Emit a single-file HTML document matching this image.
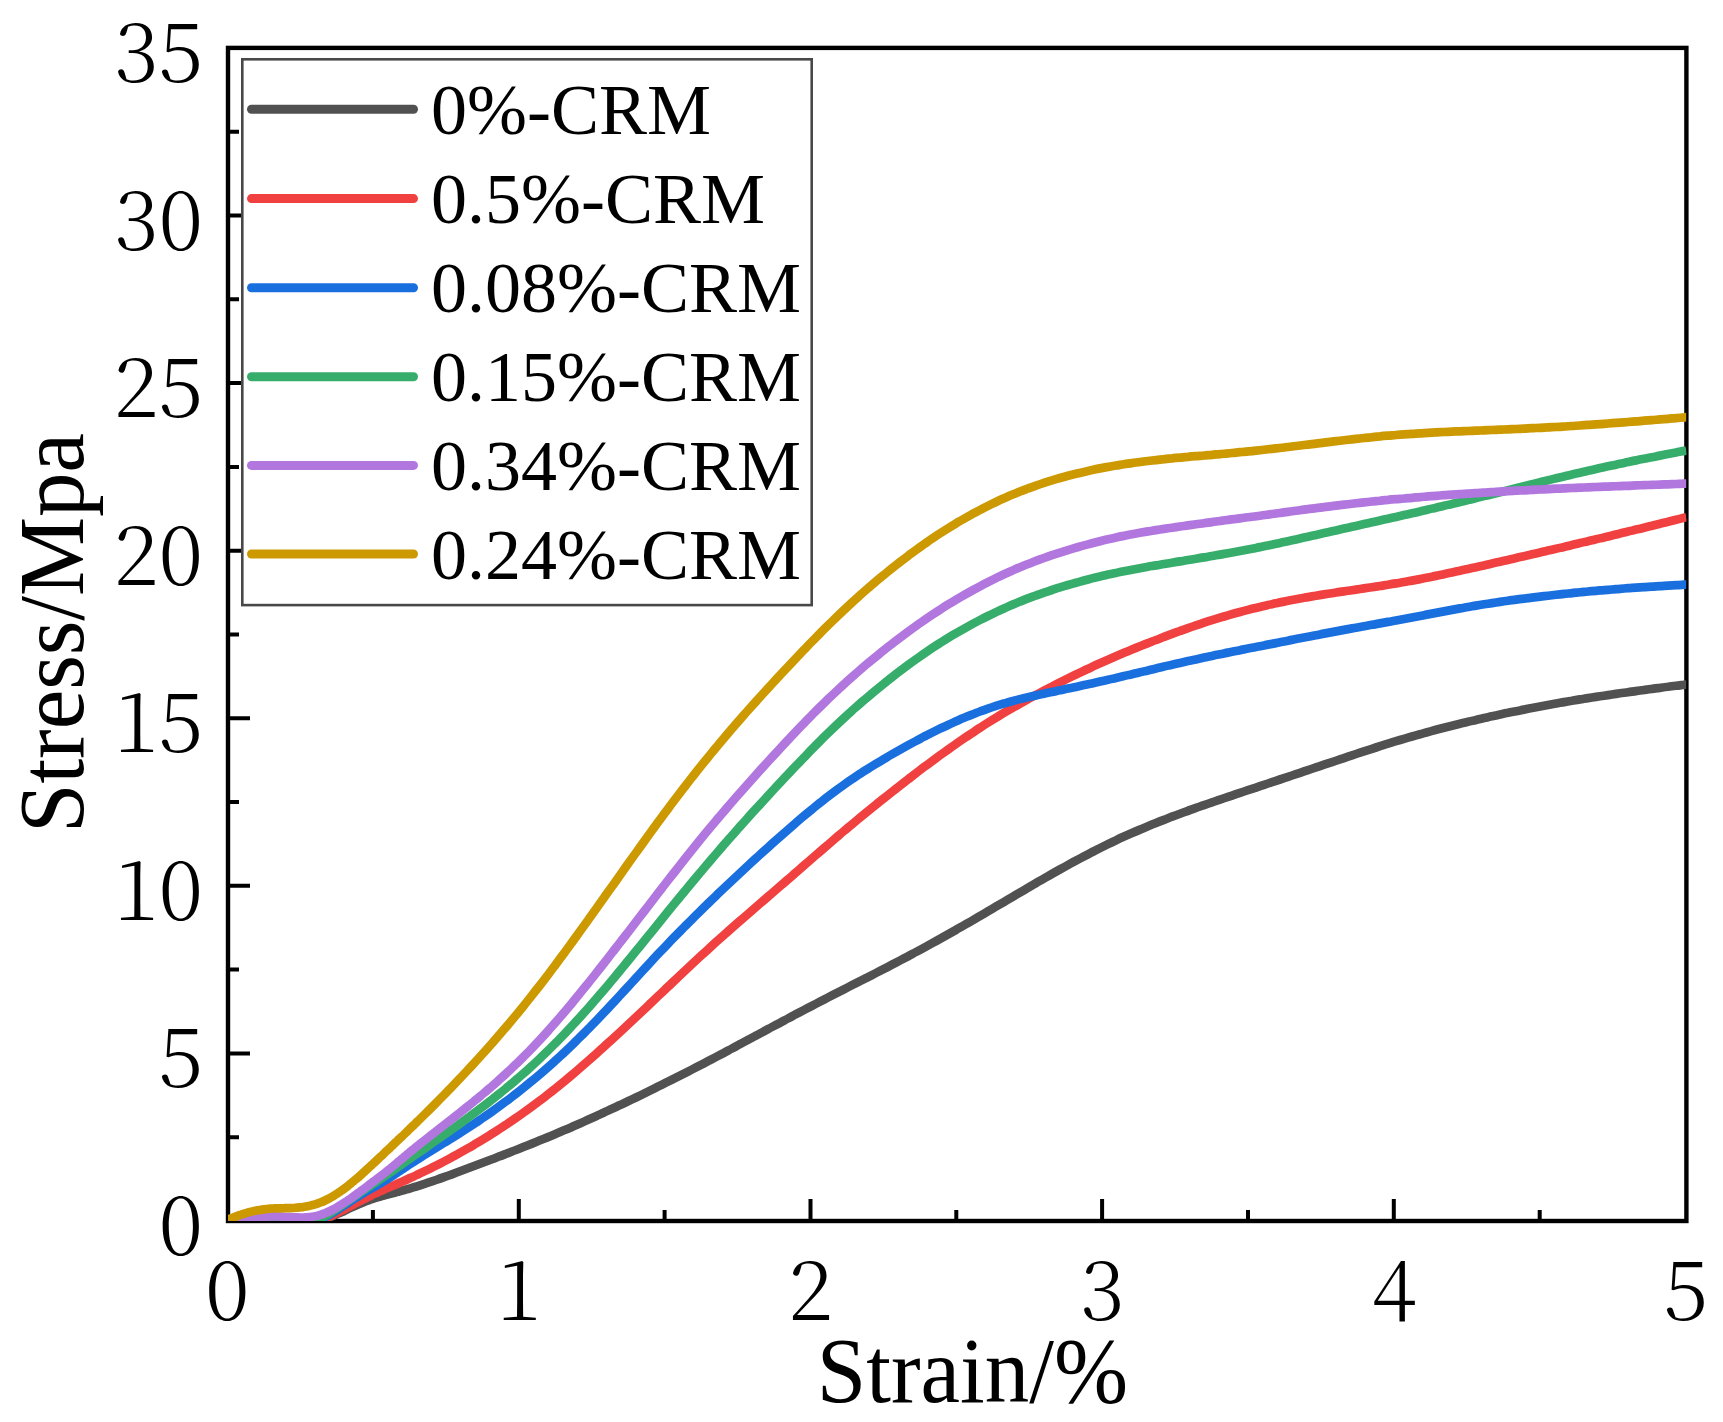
<!DOCTYPE html>
<html lang="en"><head><meta charset="utf-8"><title>Stress-Strain</title>
<style>html,body{margin:0;padding:0;background:#fff}svg{display:block}text{font-family:"Liberation Serif","Times New Roman",serif;fill:#000}.tk text{font-family:"Noto Serif CJK SC","Liberation Serif",serif;font-weight:300}</style></head><body>
<svg width="1723" height="1422" viewBox="0 0 1723 1422">
<rect width="1723" height="1422" fill="#fff"/>
<rect x="228.0" y="47.9" width="1458.4" height="1173.1" fill="none" stroke="#000" stroke-width="4.4"/>
<path d="M228.0 1137.2 h11 M228.0 1053.4 h22 M228.0 969.6 h11 M228.0 885.8 h22 M228.0 802.0 h11 M228.0 718.2 h22 M228.0 634.5 h11 M228.0 550.7 h22 M228.0 466.9 h11 M228.0 383.1 h22 M228.0 299.3 h11 M228.0 215.5 h22 M228.0 131.7 h11 M372.9 1221.0 v-11 M518.8 1221.0 v-22 M664.6 1221.0 v-11 M810.5 1221.0 v-22 M956.3 1221.0 v-11 M1102.1 1221.0 v-22 M1248.0 1221.0 v-11 M1393.8 1221.0 v-22 M1539.7 1221.0 v-11" stroke="#000" stroke-width="4.0" fill="none"/>
<defs><clipPath id="c"><rect x="228.0" y="47.9" width="1458.4" height="1173.1"/></clipPath></defs>
<g clip-path="url(#c)" fill="none" stroke-width="8.7" stroke-linejoin="round" stroke-linecap="butt">
<path d="M228.0 1221.0 C228.5 1221.0 230.0 1221.0 231.0 1221.0 C232.0 1221.0 233.0 1221.0 234.0 1221.0 C235.0 1221.0 236.0 1221.0 237.0 1221.0 C238.0 1221.0 239.0 1221.0 240.0 1221.0 C241.0 1221.0 242.0 1221.0 243.0 1221.0 C244.0 1221.0 245.0 1221.0 246.0 1221.0 C247.0 1221.0 248.0 1221.0 249.0 1221.0 C250.0 1221.0 251.0 1221.0 252.0 1221.0 C253.0 1221.0 254.0 1221.0 255.0 1221.0 C256.0 1221.0 257.0 1221.0 258.0 1221.0 C259.0 1221.0 260.0 1221.0 261.0 1221.0 C262.0 1221.0 263.0 1221.0 264.0 1221.0 C265.0 1221.0 266.0 1220.9 267.0 1220.9 C268.0 1220.9 269.0 1220.9 270.0 1220.9 C271.0 1220.9 272.0 1220.9 273.0 1220.9 C274.0 1220.9 275.0 1220.9 276.0 1220.9 C277.0 1220.9 278.0 1221.0 279.0 1221.0 C280.0 1221.0 281.0 1221.0 282.0 1221.0 C283.0 1221.0 284.0 1221.1 285.0 1221.1 C286.0 1221.1 287.0 1221.1 288.0 1221.1 C289.0 1221.1 290.0 1221.2 291.0 1221.3 C292.0 1221.3 293.0 1221.4 294.0 1221.4 C295.0 1221.4 296.0 1221.5 297.0 1221.5 C298.0 1221.5 299.0 1221.6 300.0 1221.6 C301.0 1221.6 302.0 1221.7 303.0 1221.7 C304.0 1221.7 305.0 1221.7 306.0 1221.7 C307.0 1221.7 308.0 1221.6 309.0 1221.6 C310.0 1221.5 311.0 1221.5 312.0 1221.4 C313.0 1221.3 314.0 1221.2 315.0 1221.1 C316.0 1221.0 317.0 1220.9 318.0 1220.7 C319.0 1220.5 320.0 1220.3 321.0 1220.1 C322.0 1219.9 323.0 1219.6 324.0 1219.3 C325.0 1219.0 326.0 1218.8 327.0 1218.4 C328.0 1218.1 329.0 1217.6 330.0 1217.2 C331.0 1216.8 332.0 1216.4 333.0 1216.0 C334.0 1215.6 335.0 1215.1 336.0 1214.6 C337.0 1214.1 338.0 1213.7 339.0 1213.2 C340.0 1212.8 341.0 1212.4 342.0 1211.9 C343.0 1211.5 344.0 1211.0 345.0 1210.5 C346.0 1210.0 347.0 1209.6 348.0 1209.1 C349.0 1208.6 350.0 1208.2 351.0 1207.7 C352.0 1207.2 353.0 1206.8 354.0 1206.3 C355.0 1205.8 356.0 1205.4 357.0 1205.0 C358.0 1204.6 359.0 1204.1 360.0 1203.7 C361.0 1203.3 362.0 1202.8 363.0 1202.4 C364.0 1202.0 365.0 1201.7 366.0 1201.3 C367.0 1200.9 368.0 1200.6 369.0 1200.2 C370.0 1199.8 371.0 1199.4 372.0 1199.1 C373.0 1198.8 374.0 1198.5 375.0 1198.2 C376.0 1197.9 377.0 1197.5 378.0 1197.2 C379.0 1196.9 380.0 1196.7 381.0 1196.4 C382.0 1196.1 383.0 1195.8 384.0 1195.5 C385.0 1195.2 386.0 1195.0 387.0 1194.7 C388.0 1194.4 389.0 1194.2 390.0 1193.9 C391.0 1193.6 392.0 1193.4 393.0 1193.1 C394.0 1192.8 395.0 1192.6 396.0 1192.3 C397.0 1192.0 398.0 1191.8 399.0 1191.5 C400.0 1191.2 401.0 1191.0 402.0 1190.7 C403.0 1190.4 404.0 1190.2 405.0 1189.9 C406.0 1189.6 407.0 1189.3 408.0 1189.0 C409.0 1188.7 410.0 1188.4 411.0 1188.1 C412.0 1187.8 413.0 1187.5 414.0 1187.2 C415.0 1186.9 416.0 1186.6 417.0 1186.3 C418.0 1186.0 418.2 1185.9 420.0 1185.3 C421.8 1184.7 425.3 1183.6 428.0 1182.7 C430.7 1181.8 433.3 1180.9 436.0 1180.0 C438.7 1179.1 441.3 1178.2 444.0 1177.2 C446.7 1176.2 449.3 1175.3 452.0 1174.3 C454.7 1173.3 457.3 1172.3 460.0 1171.3 C462.7 1170.3 465.3 1169.3 468.0 1168.3 C470.7 1167.3 473.3 1166.3 476.0 1165.3 C478.7 1164.3 481.3 1163.3 484.0 1162.3 C486.7 1161.3 489.3 1160.3 492.0 1159.3 C494.7 1158.3 497.3 1157.2 500.0 1156.2 C502.7 1155.2 505.3 1154.1 508.0 1153.1 C510.7 1152.1 513.3 1151.0 516.0 1150.0 C518.7 1149.0 521.3 1147.9 524.0 1146.8 C526.7 1145.7 529.3 1144.7 532.0 1143.6 C534.7 1142.5 537.3 1141.4 540.0 1140.3 C542.7 1139.2 545.3 1138.2 548.0 1137.1 C550.7 1136.0 553.3 1134.8 556.0 1133.7 C558.7 1132.6 561.3 1131.4 564.0 1130.3 C566.7 1129.2 569.3 1128.1 572.0 1126.9 C574.7 1125.8 577.3 1124.6 580.0 1123.4 C582.7 1122.2 585.3 1121.0 588.0 1119.8 C590.7 1118.6 593.3 1117.4 596.0 1116.2 C598.7 1115.0 601.3 1113.7 604.0 1112.5 C606.7 1111.3 609.3 1110.0 612.0 1108.8 C614.7 1107.6 617.3 1106.3 620.0 1105.1 C622.7 1103.8 625.3 1102.6 628.0 1101.3 C630.7 1100.0 633.3 1098.8 636.0 1097.5 C638.7 1096.2 641.3 1094.9 644.0 1093.6 C646.7 1092.3 649.3 1091.0 652.0 1089.7 C654.7 1088.4 657.3 1087.0 660.0 1085.7 C662.7 1084.4 665.3 1083.0 668.0 1081.7 C670.7 1080.4 673.3 1079.1 676.0 1077.7 C678.7 1076.3 681.3 1075.0 684.0 1073.6 C686.7 1072.2 689.3 1070.9 692.0 1069.5 C694.7 1068.1 697.3 1066.8 700.0 1065.4 C702.7 1064.0 705.3 1062.6 708.0 1061.2 C710.7 1059.8 713.3 1058.4 716.0 1057.0 C718.7 1055.6 721.3 1054.2 724.0 1052.8 C726.7 1051.4 729.3 1049.9 732.0 1048.5 C734.7 1047.1 737.3 1045.6 740.0 1044.2 C742.7 1042.8 745.3 1041.3 748.0 1039.9 C750.7 1038.5 753.3 1037.0 756.0 1035.6 C758.7 1034.2 761.3 1032.7 764.0 1031.3 C766.7 1029.9 769.3 1028.4 772.0 1027.0 C774.7 1025.6 777.3 1024.2 780.0 1022.8 C782.7 1021.4 785.3 1019.9 788.0 1018.5 C790.7 1017.1 793.3 1015.6 796.0 1014.2 C798.7 1012.8 801.3 1011.4 804.0 1010.0 C806.7 1008.6 809.3 1007.2 812.0 1005.8 C814.7 1004.4 817.3 1003.1 820.0 1001.7 C822.7 1000.3 825.3 998.9 828.0 997.5 C830.7 996.1 833.3 994.8 836.0 993.4 C838.7 992.0 841.3 990.7 844.0 989.3 C846.7 987.9 849.3 986.6 852.0 985.2 C854.7 983.9 857.3 982.6 860.0 981.2 C862.7 979.9 865.3 978.5 868.0 977.1 C870.7 975.7 873.3 974.4 876.0 973.0 C878.7 971.6 881.3 970.3 884.0 968.9 C886.7 967.5 889.3 966.1 892.0 964.7 C894.7 963.3 897.3 961.9 900.0 960.5 C902.7 959.1 905.3 957.7 908.0 956.3 C910.7 954.9 913.3 953.4 916.0 952.0 C918.7 950.6 921.3 949.2 924.0 947.7 C926.7 946.2 929.3 944.8 932.0 943.3 C934.7 941.8 937.3 940.4 940.0 938.9 C942.7 937.4 945.3 935.9 948.0 934.4 C950.7 932.9 953.3 931.4 956.0 929.9 C958.7 928.4 961.3 926.8 964.0 925.3 C966.7 923.8 969.3 922.2 972.0 920.7 C974.7 919.2 977.3 917.6 980.0 916.0 C982.7 914.4 985.3 912.9 988.0 911.3 C990.7 909.7 993.3 908.2 996.0 906.6 C998.7 905.0 1001.3 903.5 1004.0 901.9 C1006.7 900.3 1009.3 898.8 1012.0 897.2 C1014.7 895.6 1017.3 894.1 1020.0 892.5 C1022.7 890.9 1025.3 889.4 1028.0 887.8 C1030.7 886.2 1033.3 884.6 1036.0 883.1 C1038.7 881.6 1041.3 880.0 1044.0 878.5 C1046.7 877.0 1049.3 875.4 1052.0 873.9 C1054.7 872.4 1057.3 870.9 1060.0 869.4 C1062.7 867.9 1065.3 866.5 1068.0 865.0 C1070.7 863.5 1073.3 862.0 1076.0 860.6 C1078.7 859.2 1081.3 857.8 1084.0 856.4 C1086.7 855.0 1089.3 853.6 1092.0 852.2 C1094.7 850.8 1097.3 849.4 1100.0 848.1 C1102.7 846.8 1105.3 845.5 1108.0 844.2 C1110.7 842.9 1113.3 841.6 1116.0 840.3 C1118.7 839.0 1121.3 837.8 1124.0 836.6 C1126.7 835.4 1129.3 834.2 1132.0 833.0 C1134.7 831.8 1137.3 830.7 1140.0 829.6 C1142.7 828.5 1145.3 827.3 1148.0 826.2 C1150.7 825.1 1153.3 824.0 1156.0 822.9 C1158.7 821.8 1161.3 820.8 1164.0 819.8 C1166.7 818.8 1169.3 817.7 1172.0 816.7 C1174.7 815.7 1177.3 814.7 1180.0 813.7 C1182.7 812.7 1185.3 811.8 1188.0 810.8 C1190.7 809.8 1193.3 808.8 1196.0 807.9 C1198.7 807.0 1201.3 806.0 1204.0 805.1 C1206.7 804.2 1209.3 803.3 1212.0 802.4 C1214.7 801.5 1217.3 800.5 1220.0 799.6 C1222.7 798.7 1225.3 797.8 1228.0 796.9 C1230.7 796.0 1233.3 795.1 1236.0 794.2 C1238.7 793.3 1241.3 792.4 1244.0 791.5 C1246.7 790.6 1249.3 789.8 1252.0 788.9 C1254.7 788.0 1257.3 787.1 1260.0 786.2 C1262.7 785.3 1265.3 784.4 1268.0 783.5 C1270.7 782.6 1273.3 781.7 1276.0 780.8 C1278.7 779.9 1281.3 779.1 1284.0 778.2 C1286.7 777.3 1289.3 776.4 1292.0 775.5 C1294.7 774.6 1297.3 773.7 1300.0 772.8 C1302.7 771.9 1305.3 771.0 1308.0 770.1 C1310.7 769.2 1313.3 768.3 1316.0 767.4 C1318.7 766.5 1321.3 765.6 1324.0 764.7 C1326.7 763.8 1329.3 763.0 1332.0 762.1 C1334.7 761.2 1337.3 760.3 1340.0 759.4 C1342.7 758.5 1345.3 757.6 1348.0 756.7 C1350.7 755.8 1353.3 754.9 1356.0 754.0 C1358.7 753.1 1361.3 752.3 1364.0 751.4 C1366.7 750.5 1369.3 749.7 1372.0 748.8 C1374.7 747.9 1377.3 747.1 1380.0 746.2 C1382.7 745.4 1385.3 744.5 1388.0 743.7 C1390.7 742.9 1393.3 742.0 1396.0 741.2 C1398.7 740.4 1401.3 739.6 1404.0 738.8 C1406.7 738.0 1409.3 737.3 1412.0 736.5 C1414.7 735.7 1417.3 735.0 1420.0 734.2 C1422.7 733.5 1425.3 732.7 1428.0 732.0 C1430.7 731.3 1433.3 730.5 1436.0 729.8 C1438.7 729.1 1441.3 728.4 1444.0 727.7 C1446.7 727.0 1449.3 726.4 1452.0 725.7 C1454.7 725.0 1457.3 724.4 1460.0 723.7 C1462.7 723.1 1465.3 722.4 1468.0 721.8 C1470.7 721.2 1473.3 720.5 1476.0 719.9 C1478.7 719.3 1481.3 718.6 1484.0 718.0 C1486.7 717.4 1489.3 716.9 1492.0 716.3 C1494.7 715.7 1497.3 715.1 1500.0 714.5 C1502.7 713.9 1505.3 713.3 1508.0 712.8 C1510.7 712.2 1513.3 711.7 1516.0 711.2 C1518.7 710.7 1521.3 710.1 1524.0 709.6 C1526.7 709.1 1529.3 708.5 1532.0 708.0 C1534.7 707.5 1537.3 707.0 1540.0 706.5 C1542.7 706.0 1545.3 705.5 1548.0 705.0 C1550.7 704.5 1553.3 704.0 1556.0 703.5 C1558.7 703.0 1561.3 702.6 1564.0 702.1 C1566.7 701.6 1569.3 701.2 1572.0 700.8 C1574.7 700.3 1577.3 699.8 1580.0 699.4 C1582.7 699.0 1585.3 698.5 1588.0 698.1 C1590.7 697.7 1593.3 697.3 1596.0 696.9 C1598.7 696.5 1601.3 696.1 1604.0 695.7 C1606.7 695.3 1609.3 694.9 1612.0 694.5 C1614.7 694.1 1617.3 693.7 1620.0 693.3 C1622.7 692.9 1625.3 692.6 1628.0 692.2 C1630.7 691.8 1633.3 691.5 1636.0 691.1 C1638.7 690.7 1641.3 690.4 1644.0 690.0 C1646.7 689.6 1649.3 689.2 1652.0 688.9 C1654.7 688.5 1657.3 688.2 1660.0 687.9 C1662.7 687.5 1665.3 687.1 1668.0 686.8 C1670.7 686.4 1673.3 686.1 1676.0 685.8 C1678.7 685.5 1682.3 685.0 1684.0 684.8 C1685.7 684.6 1686.0 684.5 1686.4 684.5" stroke="#515151"/>
<path d="M228.0 1221.0 C228.5 1221.0 230.0 1221.0 231.0 1221.0 C232.0 1221.0 233.0 1221.0 234.0 1221.0 C235.0 1221.0 236.0 1221.0 237.0 1221.0 C238.0 1221.0 239.0 1221.0 240.0 1221.0 C241.0 1221.0 242.0 1221.0 243.0 1221.0 C244.0 1221.0 245.0 1221.0 246.0 1221.0 C247.0 1221.0 248.0 1221.0 249.0 1221.0 C250.0 1221.0 251.0 1221.0 252.0 1221.0 C253.0 1221.0 254.0 1221.0 255.0 1221.0 C256.0 1221.0 257.0 1221.0 258.0 1221.0 C259.0 1221.0 260.0 1221.0 261.0 1221.0 C262.0 1221.0 263.0 1221.0 264.0 1221.0 C265.0 1221.0 266.0 1221.0 267.0 1221.0 C268.0 1221.0 269.0 1220.9 270.0 1220.9 C271.0 1220.9 272.0 1220.9 273.0 1220.9 C274.0 1220.9 275.0 1221.0 276.0 1221.0 C277.0 1221.0 278.0 1221.0 279.0 1221.0 C280.0 1221.0 281.0 1221.0 282.0 1221.0 C283.0 1221.0 284.0 1221.1 285.0 1221.1 C286.0 1221.1 287.0 1221.2 288.0 1221.2 C289.0 1221.2 290.0 1221.3 291.0 1221.3 C292.0 1221.3 293.0 1221.4 294.0 1221.4 C295.0 1221.4 296.0 1221.5 297.0 1221.5 C298.0 1221.5 299.0 1221.6 300.0 1221.6 C301.0 1221.6 302.0 1221.6 303.0 1221.6 C304.0 1221.6 305.0 1221.6 306.0 1221.6 C307.0 1221.6 308.0 1221.6 309.0 1221.5 C310.0 1221.4 311.0 1221.3 312.0 1221.2 C313.0 1221.1 314.0 1221.1 315.0 1220.9 C316.0 1220.8 317.0 1220.5 318.0 1220.3 C319.0 1220.1 320.0 1219.9 321.0 1219.6 C322.0 1219.3 323.0 1219.0 324.0 1218.7 C325.0 1218.4 326.0 1218.1 327.0 1217.7 C328.0 1217.3 329.0 1216.9 330.0 1216.4 C331.0 1216.0 332.0 1215.5 333.0 1215.0 C334.0 1214.5 335.0 1214.0 336.0 1213.5 C337.0 1213.0 338.0 1212.5 339.0 1212.0 C340.0 1211.5 341.0 1211.0 342.0 1210.5 C343.0 1210.0 344.0 1209.5 345.0 1209.0 C346.0 1208.5 347.0 1207.9 348.0 1207.4 C349.0 1206.9 350.0 1206.3 351.0 1205.8 C352.0 1205.3 353.0 1204.8 354.0 1204.3 C355.0 1203.8 356.0 1203.2 357.0 1202.7 C358.0 1202.2 359.0 1201.7 360.0 1201.2 C361.0 1200.7 362.0 1200.1 363.0 1199.6 C364.0 1199.1 365.0 1198.6 366.0 1198.1 C367.0 1197.6 368.0 1197.1 369.0 1196.6 C370.0 1196.1 371.0 1195.6 372.0 1195.1 C373.0 1194.6 374.0 1194.2 375.0 1193.7 C376.0 1193.2 377.0 1192.8 378.0 1192.3 C379.0 1191.8 380.0 1191.4 381.0 1190.9 C382.0 1190.5 383.0 1190.0 384.0 1189.6 C385.0 1189.1 386.0 1188.7 387.0 1188.2 C388.0 1187.8 389.0 1187.3 390.0 1186.9 C391.0 1186.5 392.0 1186.1 393.0 1185.7 C394.0 1185.3 395.0 1184.9 396.0 1184.4 C397.0 1184.0 398.0 1183.5 399.0 1183.0 C400.0 1182.5 401.0 1182.1 402.0 1181.7 C403.0 1181.3 404.0 1180.9 405.0 1180.4 C406.0 1180.0 407.0 1179.5 408.0 1179.0 C409.0 1178.5 410.0 1178.0 411.0 1177.6 C412.0 1177.1 413.0 1176.8 414.0 1176.3 C415.0 1175.8 416.0 1175.4 417.0 1174.9 C418.0 1174.4 418.2 1174.3 420.0 1173.4 C421.8 1172.5 425.3 1170.9 428.0 1169.6 C430.7 1168.3 433.3 1166.9 436.0 1165.6 C438.7 1164.2 441.3 1162.9 444.0 1161.5 C446.7 1160.1 449.3 1158.7 452.0 1157.2 C454.7 1155.8 457.3 1154.3 460.0 1152.8 C462.7 1151.3 465.3 1149.8 468.0 1148.3 C470.7 1146.8 473.3 1145.2 476.0 1143.6 C478.7 1142.0 481.3 1140.4 484.0 1138.8 C486.7 1137.2 489.3 1135.5 492.0 1133.8 C494.7 1132.1 497.3 1130.4 500.0 1128.7 C502.7 1127.0 505.3 1125.2 508.0 1123.4 C510.7 1121.6 513.3 1119.8 516.0 1117.9 C518.7 1116.1 521.3 1114.2 524.0 1112.3 C526.7 1110.4 529.3 1108.5 532.0 1106.5 C534.7 1104.5 537.3 1102.6 540.0 1100.6 C542.7 1098.6 545.3 1096.5 548.0 1094.4 C550.7 1092.3 553.3 1090.2 556.0 1088.1 C558.7 1086.0 561.3 1083.8 564.0 1081.6 C566.7 1079.4 569.3 1077.2 572.0 1074.9 C574.7 1072.6 577.3 1070.3 580.0 1068.0 C582.7 1065.7 585.3 1063.3 588.0 1061.0 C590.7 1058.7 593.3 1056.3 596.0 1053.9 C598.7 1051.5 601.3 1049.1 604.0 1046.7 C606.7 1044.3 609.3 1041.8 612.0 1039.4 C614.7 1037.0 617.3 1034.6 620.0 1032.1 C622.7 1029.6 625.3 1027.1 628.0 1024.6 C630.7 1022.1 633.3 1019.6 636.0 1017.1 C638.7 1014.6 641.3 1012.1 644.0 1009.6 C646.7 1007.1 649.3 1004.5 652.0 1002.0 C654.7 999.5 657.3 996.9 660.0 994.4 C662.7 991.9 665.3 989.3 668.0 986.8 C670.7 984.3 673.3 981.7 676.0 979.2 C678.7 976.7 681.3 974.2 684.0 971.7 C686.7 969.2 689.3 966.7 692.0 964.2 C694.7 961.7 697.3 959.2 700.0 956.7 C702.7 954.2 705.3 951.8 708.0 949.4 C710.7 947.0 713.3 944.5 716.0 942.1 C718.7 939.7 721.3 937.4 724.0 935.0 C726.7 932.6 729.3 930.2 732.0 927.9 C734.7 925.5 737.3 923.2 740.0 920.9 C742.7 918.6 745.3 916.3 748.0 914.0 C750.7 911.7 753.3 909.3 756.0 907.0 C758.7 904.7 761.3 902.4 764.0 900.1 C766.7 897.8 769.3 895.5 772.0 893.2 C774.7 890.9 777.3 888.6 780.0 886.3 C782.7 884.0 785.3 881.7 788.0 879.4 C790.7 877.1 793.3 874.7 796.0 872.4 C798.7 870.1 801.3 867.7 804.0 865.4 C806.7 863.1 809.3 860.8 812.0 858.5 C814.7 856.2 817.3 853.9 820.0 851.6 C822.7 849.3 825.3 847.0 828.0 844.7 C830.7 842.4 833.3 840.1 836.0 837.8 C838.7 835.5 841.3 833.2 844.0 831.0 C846.7 828.8 849.3 826.5 852.0 824.3 C854.7 822.1 857.3 819.8 860.0 817.6 C862.7 815.4 865.3 813.3 868.0 811.1 C870.7 808.9 873.3 806.8 876.0 804.6 C878.7 802.5 881.3 800.3 884.0 798.2 C886.7 796.1 889.3 794.0 892.0 791.9 C894.7 789.8 897.3 787.7 900.0 785.6 C902.7 783.5 905.3 781.5 908.0 779.4 C910.7 777.3 913.3 775.2 916.0 773.2 C918.7 771.2 921.3 769.1 924.0 767.1 C926.7 765.1 929.3 763.2 932.0 761.2 C934.7 759.2 937.3 757.2 940.0 755.3 C942.7 753.4 945.3 751.5 948.0 749.6 C950.7 747.7 953.3 745.9 956.0 744.0 C958.7 742.1 961.3 740.2 964.0 738.4 C966.7 736.6 969.3 734.9 972.0 733.1 C974.7 731.3 977.3 729.5 980.0 727.8 C982.7 726.0 985.3 724.3 988.0 722.6 C990.7 720.9 993.3 719.3 996.0 717.7 C998.7 716.1 1001.3 714.4 1004.0 712.8 C1006.7 711.2 1009.3 709.7 1012.0 708.2 C1014.7 706.7 1017.3 705.1 1020.0 703.6 C1022.7 702.1 1025.3 700.7 1028.0 699.2 C1030.7 697.8 1033.3 696.3 1036.0 694.9 C1038.7 693.5 1041.3 692.0 1044.0 690.6 C1046.7 689.2 1049.3 687.9 1052.0 686.5 C1054.7 685.1 1057.3 683.8 1060.0 682.4 C1062.7 681.0 1065.3 679.7 1068.0 678.4 C1070.7 677.1 1073.3 675.8 1076.0 674.5 C1078.7 673.2 1081.3 672.0 1084.0 670.7 C1086.7 669.4 1089.3 668.1 1092.0 666.9 C1094.7 665.6 1097.3 664.4 1100.0 663.2 C1102.7 662.0 1105.3 660.9 1108.0 659.7 C1110.7 658.5 1113.3 657.4 1116.0 656.2 C1118.7 655.1 1121.3 653.9 1124.0 652.8 C1126.7 651.7 1129.3 650.6 1132.0 649.5 C1134.7 648.4 1137.3 647.4 1140.0 646.3 C1142.7 645.2 1145.3 644.1 1148.0 643.1 C1150.7 642.1 1153.3 641.0 1156.0 640.0 C1158.7 639.0 1161.3 637.9 1164.0 636.9 C1166.7 635.9 1169.3 634.9 1172.0 633.9 C1174.7 632.9 1177.3 632.0 1180.0 631.0 C1182.7 630.0 1185.3 629.0 1188.0 628.1 C1190.7 627.2 1193.3 626.3 1196.0 625.4 C1198.7 624.5 1201.3 623.6 1204.0 622.7 C1206.7 621.8 1209.3 620.9 1212.0 620.1 C1214.7 619.3 1217.3 618.5 1220.0 617.7 C1222.7 616.9 1225.3 616.1 1228.0 615.3 C1230.7 614.5 1233.3 613.7 1236.0 613.0 C1238.7 612.3 1241.3 611.6 1244.0 610.9 C1246.7 610.2 1249.3 609.5 1252.0 608.8 C1254.7 608.1 1257.3 607.5 1260.0 606.9 C1262.7 606.3 1265.3 605.6 1268.0 605.0 C1270.7 604.4 1273.3 603.9 1276.0 603.3 C1278.7 602.7 1281.3 602.1 1284.0 601.6 C1286.7 601.1 1289.3 600.5 1292.0 600.0 C1294.7 599.5 1297.3 599.0 1300.0 598.5 C1302.7 598.0 1305.3 597.6 1308.0 597.1 C1310.7 596.6 1313.3 596.2 1316.0 595.7 C1318.7 595.2 1321.3 594.8 1324.0 594.4 C1326.7 594.0 1329.3 593.6 1332.0 593.2 C1334.7 592.8 1337.3 592.3 1340.0 591.9 C1342.7 591.5 1345.3 591.2 1348.0 590.8 C1350.7 590.4 1353.3 590.0 1356.0 589.6 C1358.7 589.2 1361.3 588.8 1364.0 588.4 C1366.7 588.0 1369.3 587.6 1372.0 587.2 C1374.7 586.8 1377.3 586.4 1380.0 586.0 C1382.7 585.6 1385.3 585.1 1388.0 584.7 C1390.7 584.3 1393.3 583.9 1396.0 583.4 C1398.7 582.9 1401.3 582.5 1404.0 582.0 C1406.7 581.5 1409.3 581.1 1412.0 580.6 C1414.7 580.1 1417.3 579.6 1420.0 579.1 C1422.7 578.6 1425.3 578.0 1428.0 577.5 C1430.7 577.0 1433.3 576.4 1436.0 575.9 C1438.7 575.4 1441.3 574.8 1444.0 574.2 C1446.7 573.6 1449.3 573.1 1452.0 572.5 C1454.7 571.9 1457.3 571.3 1460.0 570.7 C1462.7 570.1 1465.3 569.6 1468.0 569.0 C1470.7 568.4 1473.3 567.8 1476.0 567.2 C1478.7 566.6 1481.3 566.0 1484.0 565.4 C1486.7 564.8 1489.3 564.1 1492.0 563.5 C1494.7 562.9 1497.3 562.3 1500.0 561.7 C1502.7 561.1 1505.3 560.5 1508.0 559.9 C1510.7 559.3 1513.3 558.6 1516.0 558.0 C1518.7 557.4 1521.3 556.8 1524.0 556.2 C1526.7 555.6 1529.3 554.9 1532.0 554.3 C1534.7 553.7 1537.3 553.1 1540.0 552.5 C1542.7 551.9 1545.3 551.2 1548.0 550.6 C1550.7 550.0 1553.3 549.4 1556.0 548.8 C1558.7 548.2 1561.3 547.5 1564.0 546.9 C1566.7 546.3 1569.3 545.6 1572.0 545.0 C1574.7 544.4 1577.3 543.7 1580.0 543.1 C1582.7 542.5 1585.3 541.8 1588.0 541.2 C1590.7 540.6 1593.3 539.9 1596.0 539.3 C1598.7 538.7 1601.3 538.0 1604.0 537.4 C1606.7 536.8 1609.3 536.1 1612.0 535.5 C1614.7 534.9 1617.3 534.1 1620.0 533.5 C1622.7 532.9 1625.3 532.2 1628.0 531.6 C1630.7 531.0 1633.3 530.2 1636.0 529.6 C1638.7 529.0 1641.3 528.4 1644.0 527.7 C1646.7 527.1 1649.3 526.4 1652.0 525.7 C1654.7 525.0 1657.3 524.4 1660.0 523.7 C1662.7 523.1 1665.3 522.4 1668.0 521.8 C1670.7 521.1 1673.3 520.5 1676.0 519.8 C1678.7 519.1 1682.3 518.2 1684.0 517.8 C1685.7 517.4 1686.0 517.3 1686.4 517.2" stroke="#F14040"/>
<path d="M228.0 1221.0 C228.5 1221.0 230.0 1221.0 231.0 1221.0 C232.0 1221.0 233.0 1221.0 234.0 1221.0 C235.0 1221.0 236.0 1221.0 237.0 1221.0 C238.0 1221.0 239.0 1221.0 240.0 1221.0 C241.0 1221.0 242.0 1221.0 243.0 1221.0 C244.0 1221.0 245.0 1221.0 246.0 1221.0 C247.0 1221.0 248.0 1221.0 249.0 1221.0 C250.0 1221.0 251.0 1221.0 252.0 1221.0 C253.0 1221.0 254.0 1221.0 255.0 1221.0 C256.0 1221.0 257.0 1221.0 258.0 1221.0 C259.0 1221.0 260.0 1221.0 261.0 1221.0 C262.0 1221.0 263.0 1221.0 264.0 1221.0 C265.0 1221.0 266.0 1221.0 267.0 1221.0 C268.0 1221.0 269.0 1220.9 270.0 1220.9 C271.0 1220.9 272.0 1221.0 273.0 1221.0 C274.0 1221.0 275.0 1221.0 276.0 1221.0 C277.0 1221.0 278.0 1221.0 279.0 1221.0 C280.0 1221.0 281.0 1221.1 282.0 1221.1 C283.0 1221.1 284.0 1221.1 285.0 1221.1 C286.0 1221.1 287.0 1221.2 288.0 1221.2 C289.0 1221.2 290.0 1221.2 291.0 1221.3 C292.0 1221.3 293.0 1221.5 294.0 1221.5 C295.0 1221.5 296.0 1221.6 297.0 1221.6 C298.0 1221.6 299.0 1221.7 300.0 1221.7 C301.0 1221.7 302.0 1221.7 303.0 1221.7 C304.0 1221.7 305.0 1221.6 306.0 1221.6 C307.0 1221.5 308.0 1221.5 309.0 1221.4 C310.0 1221.3 311.0 1221.2 312.0 1221.1 C313.0 1221.0 314.0 1220.8 315.0 1220.6 C316.0 1220.4 317.0 1220.2 318.0 1219.9 C319.0 1219.6 320.0 1219.3 321.0 1218.9 C322.0 1218.5 323.0 1218.2 324.0 1217.7 C325.0 1217.2 326.0 1216.7 327.0 1216.2 C328.0 1215.7 329.0 1215.2 330.0 1214.6 C331.0 1214.0 332.0 1213.3 333.0 1212.7 C334.0 1212.1 335.0 1211.4 336.0 1210.8 C337.0 1210.2 338.0 1209.6 339.0 1208.9 C340.0 1208.2 341.0 1207.6 342.0 1206.9 C343.0 1206.2 344.0 1205.7 345.0 1205.0 C346.0 1204.3 347.0 1203.7 348.0 1203.0 C349.0 1202.3 350.0 1201.7 351.0 1201.0 C352.0 1200.3 353.0 1199.7 354.0 1199.1 C355.0 1198.5 356.0 1197.8 357.0 1197.2 C358.0 1196.6 359.0 1195.9 360.0 1195.3 C361.0 1194.7 362.0 1194.0 363.0 1193.4 C364.0 1192.8 365.0 1192.2 366.0 1191.6 C367.0 1191.0 368.0 1190.5 369.0 1189.9 C370.0 1189.3 371.0 1188.8 372.0 1188.2 C373.0 1187.6 374.0 1187.1 375.0 1186.5 C376.0 1185.9 377.0 1185.4 378.0 1184.8 C379.0 1184.2 380.0 1183.7 381.0 1183.1 C382.0 1182.5 383.0 1181.9 384.0 1181.3 C385.0 1180.7 386.0 1180.0 387.0 1179.4 C388.0 1178.8 389.0 1178.2 390.0 1177.5 C391.0 1176.8 392.0 1176.2 393.0 1175.5 C394.0 1174.8 395.0 1174.2 396.0 1173.5 C397.0 1172.8 398.0 1172.2 399.0 1171.5 C400.0 1170.8 401.0 1170.2 402.0 1169.5 C403.0 1168.8 404.0 1168.2 405.0 1167.5 C406.0 1166.8 407.0 1166.2 408.0 1165.5 C409.0 1164.8 410.0 1164.2 411.0 1163.6 C412.0 1163.0 413.0 1162.3 414.0 1161.7 C415.0 1161.1 416.0 1160.4 417.0 1159.7 C418.0 1159.0 418.2 1159.0 420.0 1157.8 C421.8 1156.6 425.3 1154.4 428.0 1152.8 C430.7 1151.2 433.3 1149.6 436.0 1147.9 C438.7 1146.2 441.3 1144.6 444.0 1142.9 C446.7 1141.2 449.3 1139.7 452.0 1138.0 C454.7 1136.3 457.3 1134.7 460.0 1133.0 C462.7 1131.3 465.3 1129.5 468.0 1127.8 C470.7 1126.1 473.3 1124.4 476.0 1122.6 C478.7 1120.8 481.3 1118.9 484.0 1117.1 C486.7 1115.3 489.3 1113.5 492.0 1111.6 C494.7 1109.7 497.3 1107.8 500.0 1105.8 C502.7 1103.8 505.3 1101.9 508.0 1099.9 C510.7 1097.9 513.3 1095.8 516.0 1093.7 C518.7 1091.6 521.3 1089.5 524.0 1087.4 C526.7 1085.3 529.3 1083.1 532.0 1080.9 C534.7 1078.7 537.3 1076.5 540.0 1074.2 C542.7 1071.9 545.3 1069.6 548.0 1067.2 C550.7 1064.8 553.3 1062.5 556.0 1060.1 C558.7 1057.7 561.3 1055.2 564.0 1052.7 C566.7 1050.2 569.3 1047.7 572.0 1045.1 C574.7 1042.5 577.3 1039.8 580.0 1037.2 C582.7 1034.6 585.3 1031.9 588.0 1029.2 C590.7 1026.5 593.3 1023.8 596.0 1021.0 C598.7 1018.2 601.3 1015.4 604.0 1012.6 C606.7 1009.8 609.3 1006.9 612.0 1004.0 C614.7 1001.1 617.3 998.3 620.0 995.4 C622.7 992.5 625.3 989.6 628.0 986.7 C630.7 983.8 633.3 980.9 636.0 978.0 C638.7 975.1 641.3 972.2 644.0 969.3 C646.7 966.4 649.3 963.5 652.0 960.6 C654.7 957.7 657.3 954.9 660.0 952.1 C662.7 949.3 665.3 946.5 668.0 943.7 C670.7 940.9 673.3 938.1 676.0 935.4 C678.7 932.7 681.3 930.0 684.0 927.3 C686.7 924.6 689.3 921.9 692.0 919.3 C694.7 916.6 697.3 914.0 700.0 911.4 C702.7 908.8 705.3 906.1 708.0 903.5 C710.7 900.9 713.3 898.4 716.0 895.8 C718.7 893.2 721.3 890.6 724.0 888.1 C726.7 885.6 729.3 883.1 732.0 880.6 C734.7 878.1 737.3 875.6 740.0 873.1 C742.7 870.6 745.3 868.1 748.0 865.6 C750.7 863.1 753.3 860.7 756.0 858.3 C758.7 855.9 761.3 853.4 764.0 851.0 C766.7 848.6 769.3 846.2 772.0 843.8 C774.7 841.4 777.3 839.1 780.0 836.7 C782.7 834.4 785.3 832.0 788.0 829.7 C790.7 827.4 793.3 825.0 796.0 822.7 C798.7 820.4 801.3 818.1 804.0 815.9 C806.7 813.7 809.3 811.5 812.0 809.3 C814.7 807.1 817.3 804.9 820.0 802.8 C822.7 800.7 825.3 798.5 828.0 796.5 C830.7 794.5 833.3 792.5 836.0 790.5 C838.7 788.5 841.3 786.6 844.0 784.7 C846.7 782.8 849.3 781.0 852.0 779.2 C854.7 777.4 857.3 775.5 860.0 773.8 C862.7 772.0 865.3 770.4 868.0 768.7 C870.7 767.0 873.3 765.4 876.0 763.8 C878.7 762.2 881.3 760.6 884.0 759.0 C886.7 757.4 889.3 755.8 892.0 754.3 C894.7 752.8 897.3 751.3 900.0 749.8 C902.7 748.3 905.3 746.8 908.0 745.3 C910.7 743.8 913.3 742.4 916.0 741.0 C918.7 739.6 921.3 738.1 924.0 736.7 C926.7 735.3 929.3 733.9 932.0 732.6 C934.7 731.3 937.3 730.0 940.0 728.7 C942.7 727.4 945.3 726.1 948.0 724.9 C950.7 723.7 953.3 722.5 956.0 721.3 C958.7 720.1 961.3 718.9 964.0 717.8 C966.7 716.7 969.3 715.6 972.0 714.6 C974.7 713.6 977.3 712.5 980.0 711.5 C982.7 710.5 985.3 709.5 988.0 708.6 C990.7 707.7 993.3 706.8 996.0 705.9 C998.7 705.0 1001.3 704.3 1004.0 703.5 C1006.7 702.7 1009.3 701.9 1012.0 701.2 C1014.7 700.5 1017.3 699.8 1020.0 699.1 C1022.7 698.4 1025.3 697.8 1028.0 697.2 C1030.7 696.6 1033.3 696.0 1036.0 695.4 C1038.7 694.8 1041.3 694.3 1044.0 693.7 C1046.7 693.1 1049.3 692.6 1052.0 692.0 C1054.7 691.4 1057.3 690.9 1060.0 690.3 C1062.7 689.7 1065.3 689.2 1068.0 688.6 C1070.7 688.0 1073.3 687.5 1076.0 686.9 C1078.7 686.3 1081.3 685.7 1084.0 685.1 C1086.7 684.5 1089.3 684.0 1092.0 683.4 C1094.7 682.8 1097.3 682.2 1100.0 681.6 C1102.7 681.0 1105.3 680.4 1108.0 679.8 C1110.7 679.2 1113.3 678.5 1116.0 677.9 C1118.7 677.3 1121.3 676.7 1124.0 676.1 C1126.7 675.5 1129.3 674.8 1132.0 674.2 C1134.7 673.6 1137.3 672.9 1140.0 672.3 C1142.7 671.7 1145.3 671.0 1148.0 670.4 C1150.7 669.8 1153.3 669.1 1156.0 668.5 C1158.7 667.9 1161.3 667.2 1164.0 666.6 C1166.7 666.0 1169.3 665.3 1172.0 664.7 C1174.7 664.1 1177.3 663.5 1180.0 662.9 C1182.7 662.3 1185.3 661.7 1188.0 661.1 C1190.7 660.5 1193.3 660.0 1196.0 659.4 C1198.7 658.8 1201.3 658.2 1204.0 657.6 C1206.7 657.0 1209.3 656.5 1212.0 655.9 C1214.7 655.3 1217.3 654.8 1220.0 654.3 C1222.7 653.8 1225.3 653.1 1228.0 652.6 C1230.7 652.1 1233.3 651.5 1236.0 651.0 C1238.7 650.5 1241.3 649.9 1244.0 649.4 C1246.7 648.9 1249.3 648.3 1252.0 647.8 C1254.7 647.3 1257.3 646.7 1260.0 646.2 C1262.7 645.7 1265.3 645.1 1268.0 644.6 C1270.7 644.1 1273.3 643.6 1276.0 643.1 C1278.7 642.6 1281.3 642.0 1284.0 641.5 C1286.7 641.0 1289.3 640.4 1292.0 639.9 C1294.7 639.4 1297.3 638.8 1300.0 638.3 C1302.7 637.8 1305.3 637.3 1308.0 636.8 C1310.7 636.3 1313.3 635.7 1316.0 635.2 C1318.7 634.7 1321.3 634.1 1324.0 633.6 C1326.7 633.1 1329.3 632.6 1332.0 632.1 C1334.7 631.6 1337.3 631.1 1340.0 630.6 C1342.7 630.1 1345.3 629.6 1348.0 629.1 C1350.7 628.6 1353.3 628.2 1356.0 627.7 C1358.7 627.2 1361.3 626.7 1364.0 626.2 C1366.7 625.7 1369.3 625.3 1372.0 624.8 C1374.7 624.3 1377.3 623.9 1380.0 623.4 C1382.7 622.9 1385.3 622.4 1388.0 621.9 C1390.7 621.4 1393.3 621.0 1396.0 620.5 C1398.7 620.0 1401.3 619.5 1404.0 619.0 C1406.7 618.5 1409.3 618.0 1412.0 617.5 C1414.7 617.0 1417.3 616.5 1420.0 616.0 C1422.7 615.5 1425.3 614.9 1428.0 614.4 C1430.7 613.9 1433.3 613.4 1436.0 612.9 C1438.7 612.4 1441.3 611.9 1444.0 611.4 C1446.7 610.9 1449.3 610.4 1452.0 609.9 C1454.7 609.4 1457.3 608.9 1460.0 608.4 C1462.7 607.9 1465.3 607.5 1468.0 607.0 C1470.7 606.5 1473.3 606.1 1476.0 605.6 C1478.7 605.1 1481.3 604.7 1484.0 604.3 C1486.7 603.9 1489.3 603.5 1492.0 603.1 C1494.7 602.7 1497.3 602.3 1500.0 601.9 C1502.7 601.5 1505.3 601.1 1508.0 600.7 C1510.7 600.3 1513.3 600.0 1516.0 599.6 C1518.7 599.2 1521.3 598.9 1524.0 598.6 C1526.7 598.3 1529.3 597.9 1532.0 597.6 C1534.7 597.3 1537.3 596.9 1540.0 596.6 C1542.7 596.3 1545.3 596.0 1548.0 595.7 C1550.7 595.4 1553.3 595.1 1556.0 594.8 C1558.7 594.5 1561.3 594.2 1564.0 593.9 C1566.7 593.6 1569.3 593.4 1572.0 593.1 C1574.7 592.8 1577.3 592.6 1580.0 592.3 C1582.7 592.0 1585.3 591.8 1588.0 591.5 C1590.7 591.2 1593.3 591.0 1596.0 590.8 C1598.7 590.6 1601.3 590.3 1604.0 590.1 C1606.7 589.9 1609.3 589.7 1612.0 589.5 C1614.7 589.3 1617.3 589.0 1620.0 588.8 C1622.7 588.6 1625.3 588.4 1628.0 588.2 C1630.7 588.0 1633.3 587.9 1636.0 587.7 C1638.7 587.5 1641.3 587.3 1644.0 587.1 C1646.7 586.9 1649.3 586.8 1652.0 586.6 C1654.7 586.4 1657.3 586.3 1660.0 586.1 C1662.7 585.9 1665.3 585.8 1668.0 585.6 C1670.7 585.5 1673.3 585.4 1676.0 585.2 C1678.7 585.1 1682.3 584.8 1684.0 584.7 C1685.7 584.6 1686.0 584.6 1686.4 584.6" stroke="#1A6FDF"/>
<path d="M228.0 1221.0 C228.5 1221.0 230.0 1221.0 231.0 1221.0 C232.0 1221.0 233.0 1221.0 234.0 1221.0 C235.0 1221.0 236.0 1221.0 237.0 1221.0 C238.0 1221.0 239.0 1221.0 240.0 1221.0 C241.0 1221.0 242.0 1221.0 243.0 1221.0 C244.0 1221.0 245.0 1221.0 246.0 1221.0 C247.0 1221.0 248.0 1221.0 249.0 1221.0 C250.0 1221.0 251.0 1221.0 252.0 1221.0 C253.0 1221.0 254.0 1221.0 255.0 1221.0 C256.0 1221.0 257.0 1221.0 258.0 1221.0 C259.0 1221.0 260.0 1221.0 261.0 1221.0 C262.0 1221.0 263.0 1221.0 264.0 1221.0 C265.0 1221.0 266.0 1221.0 267.0 1221.0 C268.0 1221.0 269.0 1221.0 270.0 1221.0 C271.0 1221.0 272.0 1221.0 273.0 1221.0 C274.0 1221.0 275.0 1221.0 276.0 1221.0 C277.0 1221.0 278.0 1221.0 279.0 1221.0 C280.0 1221.0 281.0 1221.1 282.0 1221.1 C283.0 1221.1 284.0 1221.2 285.0 1221.2 C286.0 1221.2 287.0 1221.2 288.0 1221.2 C289.0 1221.2 290.0 1221.2 291.0 1221.3 C292.0 1221.3 293.0 1221.5 294.0 1221.5 C295.0 1221.5 296.0 1221.6 297.0 1221.6 C298.0 1221.6 299.0 1221.6 300.0 1221.6 C301.0 1221.6 302.0 1221.6 303.0 1221.6 C304.0 1221.6 305.0 1221.6 306.0 1221.5 C307.0 1221.4 308.0 1221.3 309.0 1221.2 C310.0 1221.1 311.0 1221.0 312.0 1220.8 C313.0 1220.6 314.0 1220.3 315.0 1220.1 C316.0 1219.8 317.0 1219.6 318.0 1219.3 C319.0 1219.0 320.0 1218.5 321.0 1218.1 C322.0 1217.7 323.0 1217.2 324.0 1216.7 C325.0 1216.2 326.0 1215.7 327.0 1215.1 C328.0 1214.5 329.0 1213.8 330.0 1213.2 C331.0 1212.6 332.0 1212.0 333.0 1211.3 C334.0 1210.6 335.0 1209.9 336.0 1209.2 C337.0 1208.5 338.0 1207.9 339.0 1207.2 C340.0 1206.5 341.0 1205.9 342.0 1205.2 C343.0 1204.5 344.0 1203.8 345.0 1203.1 C346.0 1202.4 347.0 1201.7 348.0 1201.0 C349.0 1200.3 350.0 1199.7 351.0 1199.0 C352.0 1198.3 353.0 1197.6 354.0 1196.9 C355.0 1196.2 356.0 1195.6 357.0 1194.9 C358.0 1194.2 359.0 1193.5 360.0 1192.8 C361.0 1192.1 362.0 1191.5 363.0 1190.8 C364.0 1190.1 365.0 1189.5 366.0 1188.8 C367.0 1188.1 368.0 1187.5 369.0 1186.8 C370.0 1186.1 371.0 1185.5 372.0 1184.8 C373.0 1184.1 374.0 1183.5 375.0 1182.8 C376.0 1182.1 377.0 1181.5 378.0 1180.8 C379.0 1180.1 380.0 1179.5 381.0 1178.8 C382.0 1178.1 383.0 1177.5 384.0 1176.8 C385.0 1176.1 386.0 1175.5 387.0 1174.8 C388.0 1174.1 389.0 1173.4 390.0 1172.7 C391.0 1172.0 392.0 1171.3 393.0 1170.6 C394.0 1169.9 395.0 1169.2 396.0 1168.5 C397.0 1167.8 398.0 1167.1 399.0 1166.4 C400.0 1165.7 401.0 1165.0 402.0 1164.3 C403.0 1163.6 404.0 1162.9 405.0 1162.2 C406.0 1161.5 407.0 1160.7 408.0 1160.0 C409.0 1159.3 410.0 1158.6 411.0 1157.9 C412.0 1157.2 413.0 1156.5 414.0 1155.8 C415.0 1155.1 416.0 1154.4 417.0 1153.7 C418.0 1153.0 418.2 1153.0 420.0 1151.7 C421.8 1150.4 425.3 1148.0 428.0 1146.1 C430.7 1144.2 433.3 1142.4 436.0 1140.5 C438.7 1138.6 441.3 1136.8 444.0 1134.9 C446.7 1133.0 449.3 1131.2 452.0 1129.3 C454.7 1127.4 457.3 1125.5 460.0 1123.6 C462.7 1121.7 465.3 1119.7 468.0 1117.7 C470.7 1115.7 473.3 1113.8 476.0 1111.8 C478.7 1109.8 481.3 1107.8 484.0 1105.8 C486.7 1103.8 489.3 1101.7 492.0 1099.6 C494.7 1097.5 497.3 1095.3 500.0 1093.2 C502.7 1091.1 505.3 1088.9 508.0 1086.7 C510.7 1084.5 513.3 1082.2 516.0 1079.9 C518.7 1077.6 521.3 1075.3 524.0 1073.0 C526.7 1070.7 529.3 1068.2 532.0 1065.8 C534.7 1063.3 537.3 1060.8 540.0 1058.3 C542.7 1055.8 545.3 1053.2 548.0 1050.6 C550.7 1048.0 553.3 1045.3 556.0 1042.6 C558.7 1039.9 561.3 1037.2 564.0 1034.4 C566.7 1031.6 569.3 1028.8 572.0 1025.9 C574.7 1023.0 577.3 1020.1 580.0 1017.2 C582.7 1014.3 585.3 1011.3 588.0 1008.3 C590.7 1005.3 593.3 1002.2 596.0 999.1 C598.7 996.0 601.3 992.9 604.0 989.8 C606.7 986.7 609.3 983.5 612.0 980.3 C614.7 977.1 617.3 973.8 620.0 970.6 C622.7 967.4 625.3 964.1 628.0 960.9 C630.7 957.6 633.3 954.4 636.0 951.1 C638.7 947.8 641.3 944.5 644.0 941.2 C646.7 937.9 649.3 934.7 652.0 931.4 C654.7 928.1 657.3 924.8 660.0 921.5 C662.7 918.2 665.3 914.9 668.0 911.6 C670.7 908.3 673.3 905.0 676.0 901.8 C678.7 898.5 681.3 895.3 684.0 892.1 C686.7 888.9 689.3 885.6 692.0 882.4 C694.7 879.2 697.3 876.0 700.0 872.8 C702.7 869.6 705.3 866.4 708.0 863.3 C710.7 860.2 713.3 857.1 716.0 854.0 C718.7 850.9 721.3 847.8 724.0 844.7 C726.7 841.6 729.3 838.6 732.0 835.6 C734.7 832.6 737.3 829.5 740.0 826.5 C742.7 823.5 745.3 820.6 748.0 817.6 C750.7 814.6 753.3 811.7 756.0 808.8 C758.7 805.9 761.3 803.0 764.0 800.1 C766.7 797.2 769.3 794.3 772.0 791.4 C774.7 788.5 777.3 785.6 780.0 782.8 C782.7 779.9 785.3 777.1 788.0 774.3 C790.7 771.5 793.3 768.6 796.0 765.8 C798.7 763.0 801.3 760.3 804.0 757.5 C806.7 754.7 809.3 751.9 812.0 749.2 C814.7 746.5 817.3 743.8 820.0 741.1 C822.7 738.4 825.3 735.8 828.0 733.2 C830.7 730.6 833.3 728.0 836.0 725.5 C838.7 723.0 841.3 720.5 844.0 718.0 C846.7 715.5 849.3 713.1 852.0 710.7 C854.7 708.3 857.3 705.9 860.0 703.6 C862.7 701.3 865.3 699.0 868.0 696.8 C870.7 694.5 873.3 692.3 876.0 690.1 C878.7 687.9 881.3 685.8 884.0 683.6 C886.7 681.5 889.3 679.3 892.0 677.2 C894.7 675.1 897.3 673.1 900.0 671.1 C902.7 669.1 905.3 667.1 908.0 665.1 C910.7 663.1 913.3 661.2 916.0 659.3 C918.7 657.4 921.3 655.5 924.0 653.6 C926.7 651.8 929.3 650.0 932.0 648.2 C934.7 646.4 937.3 644.7 940.0 643.0 C942.7 641.3 945.3 639.6 948.0 638.0 C950.7 636.4 953.3 634.8 956.0 633.2 C958.7 631.7 961.3 630.2 964.0 628.7 C966.7 627.2 969.3 625.8 972.0 624.3 C974.7 622.8 977.3 621.4 980.0 620.0 C982.7 618.6 985.3 617.3 988.0 616.0 C990.7 614.7 993.3 613.4 996.0 612.1 C998.7 610.9 1001.3 609.7 1004.0 608.5 C1006.7 607.3 1009.3 606.0 1012.0 604.9 C1014.7 603.8 1017.3 602.7 1020.0 601.6 C1022.7 600.5 1025.3 599.4 1028.0 598.4 C1030.7 597.4 1033.3 596.5 1036.0 595.5 C1038.7 594.5 1041.3 593.5 1044.0 592.6 C1046.7 591.7 1049.3 590.9 1052.0 590.0 C1054.7 589.1 1057.3 588.2 1060.0 587.4 C1062.7 586.6 1065.3 585.8 1068.0 585.0 C1070.7 584.2 1073.3 583.5 1076.0 582.7 C1078.7 582.0 1081.3 581.2 1084.0 580.5 C1086.7 579.8 1089.3 579.1 1092.0 578.4 C1094.7 577.7 1097.3 577.1 1100.0 576.5 C1102.7 575.9 1105.3 575.2 1108.0 574.6 C1110.7 574.0 1113.3 573.5 1116.0 572.9 C1118.7 572.3 1121.3 571.7 1124.0 571.2 C1126.7 570.7 1129.3 570.2 1132.0 569.7 C1134.7 569.2 1137.3 568.7 1140.0 568.2 C1142.7 567.7 1145.3 567.2 1148.0 566.7 C1150.7 566.2 1153.3 565.9 1156.0 565.4 C1158.7 564.9 1161.3 564.5 1164.0 564.0 C1166.7 563.5 1169.3 563.1 1172.0 562.7 C1174.7 562.3 1177.3 561.9 1180.0 561.4 C1182.7 560.9 1185.3 560.5 1188.0 560.0 C1190.7 559.5 1193.3 559.1 1196.0 558.7 C1198.7 558.3 1201.3 557.9 1204.0 557.4 C1206.7 556.9 1209.3 556.5 1212.0 556.0 C1214.7 555.5 1217.3 555.1 1220.0 554.6 C1222.7 554.1 1225.3 553.7 1228.0 553.2 C1230.7 552.7 1233.3 552.2 1236.0 551.7 C1238.7 551.2 1241.3 550.7 1244.0 550.2 C1246.7 549.7 1249.3 549.2 1252.0 548.7 C1254.7 548.2 1257.3 547.6 1260.0 547.1 C1262.7 546.6 1265.3 546.0 1268.0 545.5 C1270.7 545.0 1273.3 544.4 1276.0 543.8 C1278.7 543.2 1281.3 542.7 1284.0 542.1 C1286.7 541.5 1289.3 540.9 1292.0 540.3 C1294.7 539.7 1297.3 539.1 1300.0 538.5 C1302.7 537.9 1305.3 537.3 1308.0 536.7 C1310.7 536.1 1313.3 535.5 1316.0 534.9 C1318.7 534.3 1321.3 533.7 1324.0 533.1 C1326.7 532.5 1329.3 531.9 1332.0 531.3 C1334.7 530.7 1337.3 530.1 1340.0 529.5 C1342.7 528.9 1345.3 528.3 1348.0 527.7 C1350.7 527.1 1353.3 526.5 1356.0 525.9 C1358.7 525.3 1361.3 524.7 1364.0 524.1 C1366.7 523.5 1369.3 522.9 1372.0 522.3 C1374.7 521.7 1377.3 521.1 1380.0 520.5 C1382.7 519.9 1385.3 519.3 1388.0 518.7 C1390.7 518.1 1393.3 517.5 1396.0 516.9 C1398.7 516.3 1401.3 515.7 1404.0 515.1 C1406.7 514.5 1409.3 513.9 1412.0 513.3 C1414.7 512.7 1417.3 512.1 1420.0 511.5 C1422.7 510.9 1425.3 510.2 1428.0 509.6 C1430.7 509.0 1433.3 508.3 1436.0 507.7 C1438.7 507.1 1441.3 506.4 1444.0 505.8 C1446.7 505.2 1449.3 504.5 1452.0 503.9 C1454.7 503.3 1457.3 502.6 1460.0 502.0 C1462.7 501.4 1465.3 500.8 1468.0 500.1 C1470.7 499.5 1473.3 498.8 1476.0 498.1 C1478.7 497.4 1481.3 496.8 1484.0 496.1 C1486.7 495.5 1489.3 494.9 1492.0 494.2 C1494.7 493.5 1497.3 492.9 1500.0 492.2 C1502.7 491.5 1505.3 490.9 1508.0 490.2 C1510.7 489.5 1513.3 488.9 1516.0 488.2 C1518.7 487.5 1521.3 486.9 1524.0 486.2 C1526.7 485.5 1529.3 484.9 1532.0 484.2 C1534.7 483.5 1537.3 482.8 1540.0 482.2 C1542.7 481.6 1545.3 480.9 1548.0 480.3 C1550.7 479.7 1553.3 479.0 1556.0 478.3 C1558.7 477.6 1561.3 477.0 1564.0 476.4 C1566.7 475.8 1569.3 475.1 1572.0 474.5 C1574.7 473.9 1577.3 473.3 1580.0 472.7 C1582.7 472.1 1585.3 471.4 1588.0 470.8 C1590.7 470.2 1593.3 469.6 1596.0 469.0 C1598.7 468.4 1601.3 467.8 1604.0 467.2 C1606.7 466.6 1609.3 466.1 1612.0 465.5 C1614.7 464.9 1617.3 464.4 1620.0 463.8 C1622.7 463.2 1625.3 462.7 1628.0 462.1 C1630.7 461.5 1633.3 460.9 1636.0 460.4 C1638.7 459.8 1641.3 459.3 1644.0 458.8 C1646.7 458.3 1649.3 457.7 1652.0 457.2 C1654.7 456.7 1657.3 456.1 1660.0 455.6 C1662.7 455.1 1665.3 454.5 1668.0 454.0 C1670.7 453.5 1673.3 453.0 1676.0 452.5 C1678.7 452.0 1682.3 451.2 1684.0 450.9 C1685.7 450.6 1686.0 450.6 1686.4 450.5" stroke="#37AD6B"/>
<path d="M228.0 1221.0 C228.5 1221.0 230.0 1220.9 231.0 1220.8 C232.0 1220.7 233.0 1220.6 234.0 1220.5 C235.0 1220.4 236.0 1220.3 237.0 1220.2 C238.0 1220.1 239.0 1220.0 240.0 1219.9 C241.0 1219.8 242.0 1219.7 243.0 1219.6 C244.0 1219.5 245.0 1219.3 246.0 1219.2 C247.0 1219.1 248.0 1218.9 249.0 1218.8 C250.0 1218.7 251.0 1218.5 252.0 1218.4 C253.0 1218.3 254.0 1218.1 255.0 1218.0 C256.0 1217.9 257.0 1217.7 258.0 1217.6 C259.0 1217.5 260.0 1217.3 261.0 1217.2 C262.0 1217.1 263.0 1216.9 264.0 1216.8 C265.0 1216.7 266.0 1216.7 267.0 1216.6 C268.0 1216.5 269.0 1216.4 270.0 1216.4 C271.0 1216.4 272.0 1216.4 273.0 1216.4 C274.0 1216.4 275.0 1216.4 276.0 1216.4 C277.0 1216.4 278.0 1216.5 279.0 1216.5 C280.0 1216.5 281.0 1216.5 282.0 1216.6 C283.0 1216.6 284.0 1216.7 285.0 1216.8 C286.0 1216.9 287.0 1217.0 288.0 1217.0 C289.0 1217.0 290.0 1217.0 291.0 1217.1 C292.0 1217.1 293.0 1217.2 294.0 1217.3 C295.0 1217.3 296.0 1217.4 297.0 1217.4 C298.0 1217.4 299.0 1217.5 300.0 1217.5 C301.0 1217.5 302.0 1217.5 303.0 1217.5 C304.0 1217.5 305.0 1217.5 306.0 1217.4 C307.0 1217.4 308.0 1217.3 309.0 1217.2 C310.0 1217.1 311.0 1217.0 312.0 1216.8 C313.0 1216.6 314.0 1216.5 315.0 1216.3 C316.0 1216.1 317.0 1215.9 318.0 1215.6 C319.0 1215.3 320.0 1215.0 321.0 1214.7 C322.0 1214.4 323.0 1214.0 324.0 1213.6 C325.0 1213.2 326.0 1212.8 327.0 1212.4 C328.0 1212.0 329.0 1211.5 330.0 1211.0 C331.0 1210.5 332.0 1210.0 333.0 1209.5 C334.0 1209.0 335.0 1208.5 336.0 1207.9 C337.0 1207.3 338.0 1206.7 339.0 1206.1 C340.0 1205.5 341.0 1204.9 342.0 1204.3 C343.0 1203.7 344.0 1203.0 345.0 1202.3 C346.0 1201.6 347.0 1201.0 348.0 1200.3 C349.0 1199.6 350.0 1199.0 351.0 1198.3 C352.0 1197.6 353.0 1196.8 354.0 1196.1 C355.0 1195.4 356.0 1194.6 357.0 1193.9 C358.0 1193.2 359.0 1192.4 360.0 1191.7 C361.0 1191.0 362.0 1190.2 363.0 1189.5 C364.0 1188.8 365.0 1188.0 366.0 1187.3 C367.0 1186.5 368.0 1185.8 369.0 1185.0 C370.0 1184.2 371.0 1183.5 372.0 1182.7 C373.0 1182.0 374.0 1181.2 375.0 1180.5 C376.0 1179.8 377.0 1179.0 378.0 1178.2 C379.0 1177.4 380.0 1176.7 381.0 1175.9 C382.0 1175.1 383.0 1174.4 384.0 1173.6 C385.0 1172.8 386.0 1172.0 387.0 1171.2 C388.0 1170.4 389.0 1169.6 390.0 1168.8 C391.0 1168.0 392.0 1167.1 393.0 1166.3 C394.0 1165.5 395.0 1164.6 396.0 1163.8 C397.0 1163.0 398.0 1162.0 399.0 1161.2 C400.0 1160.4 401.0 1159.5 402.0 1158.7 C403.0 1157.9 404.0 1157.0 405.0 1156.2 C406.0 1155.4 407.0 1154.5 408.0 1153.7 C409.0 1152.9 410.0 1152.0 411.0 1151.2 C412.0 1150.4 413.0 1149.6 414.0 1148.8 C415.0 1148.0 416.0 1147.1 417.0 1146.3 C418.0 1145.5 418.2 1145.4 420.0 1143.9 C421.8 1142.5 425.3 1139.7 428.0 1137.6 C430.7 1135.5 433.3 1133.5 436.0 1131.4 C438.7 1129.3 441.3 1127.2 444.0 1125.1 C446.7 1123.0 449.3 1121.0 452.0 1118.9 C454.7 1116.8 457.3 1114.7 460.0 1112.6 C462.7 1110.5 465.3 1108.3 468.0 1106.2 C470.7 1104.1 473.3 1101.9 476.0 1099.7 C478.7 1097.5 481.3 1095.2 484.0 1093.0 C486.7 1090.8 489.3 1088.5 492.0 1086.2 C494.7 1083.9 497.3 1081.5 500.0 1079.1 C502.7 1076.7 505.3 1074.3 508.0 1071.8 C510.7 1069.3 513.3 1066.8 516.0 1064.2 C518.7 1061.6 521.3 1059.0 524.0 1056.3 C526.7 1053.6 529.3 1051.0 532.0 1048.2 C534.7 1045.4 537.3 1042.6 540.0 1039.7 C542.7 1036.8 545.3 1034.0 548.0 1031.0 C550.7 1028.0 553.3 1025.0 556.0 1021.9 C558.7 1018.8 561.3 1015.7 564.0 1012.6 C566.7 1009.5 569.3 1006.3 572.0 1003.1 C574.7 999.9 577.3 996.6 580.0 993.3 C582.7 990.0 585.3 986.7 588.0 983.4 C590.7 980.1 593.3 976.8 596.0 973.4 C598.7 970.0 601.3 966.6 604.0 963.2 C606.7 959.8 609.3 956.3 612.0 952.9 C614.7 949.5 617.3 946.0 620.0 942.6 C622.7 939.2 625.3 935.8 628.0 932.3 C630.7 928.8 633.3 925.4 636.0 921.9 C638.7 918.4 641.3 915.0 644.0 911.5 C646.7 908.0 649.3 904.6 652.0 901.1 C654.7 897.6 657.3 894.2 660.0 890.7 C662.7 887.2 665.3 883.8 668.0 880.4 C670.7 877.0 673.3 873.6 676.0 870.2 C678.7 866.8 681.3 863.4 684.0 860.0 C686.7 856.6 689.3 853.3 692.0 850.0 C694.7 846.7 697.3 843.4 700.0 840.1 C702.7 836.8 705.3 833.5 708.0 830.3 C710.7 827.1 713.3 823.9 716.0 820.7 C718.7 817.5 721.3 814.4 724.0 811.3 C726.7 808.2 729.3 805.1 732.0 802.0 C734.7 798.9 737.3 795.8 740.0 792.8 C742.7 789.8 745.3 786.8 748.0 783.8 C750.7 780.8 753.3 777.8 756.0 774.8 C758.7 771.8 761.3 768.9 764.0 766.0 C766.7 763.1 769.3 760.2 772.0 757.3 C774.7 754.4 777.3 751.5 780.0 748.6 C782.7 745.7 785.3 742.9 788.0 740.0 C790.7 737.1 793.3 734.3 796.0 731.5 C798.7 728.7 801.3 726.0 804.0 723.2 C806.7 720.5 809.3 717.7 812.0 715.0 C814.7 712.3 817.3 709.6 820.0 707.0 C822.7 704.4 825.3 701.8 828.0 699.2 C830.7 696.6 833.3 694.1 836.0 691.6 C838.7 689.1 841.3 686.6 844.0 684.2 C846.7 681.8 849.3 679.4 852.0 677.0 C854.7 674.6 857.3 672.3 860.0 670.0 C862.7 667.7 865.3 665.4 868.0 663.2 C870.7 661.0 873.3 658.8 876.0 656.6 C878.7 654.4 881.3 652.2 884.0 650.1 C886.7 648.0 889.3 645.9 892.0 643.8 C894.7 641.7 897.3 639.7 900.0 637.7 C902.7 635.7 905.3 633.8 908.0 631.8 C910.7 629.8 913.3 627.9 916.0 626.0 C918.7 624.1 921.3 622.2 924.0 620.4 C926.7 618.5 929.3 616.7 932.0 614.9 C934.7 613.1 937.3 611.4 940.0 609.7 C942.7 608.0 945.3 606.2 948.0 604.6 C950.7 603.0 953.3 601.4 956.0 599.8 C958.7 598.2 961.3 596.6 964.0 595.1 C966.7 593.6 969.3 592.1 972.0 590.6 C974.7 589.1 977.3 587.7 980.0 586.3 C982.7 584.9 985.3 583.5 988.0 582.1 C990.7 580.7 993.3 579.4 996.0 578.1 C998.7 576.8 1001.3 575.5 1004.0 574.3 C1006.7 573.1 1009.3 571.9 1012.0 570.7 C1014.7 569.5 1017.3 568.3 1020.0 567.2 C1022.7 566.1 1025.3 565.0 1028.0 564.0 C1030.7 563.0 1033.3 561.9 1036.0 560.9 C1038.7 559.9 1041.3 559.0 1044.0 558.0 C1046.7 557.0 1049.3 556.1 1052.0 555.2 C1054.7 554.3 1057.3 553.5 1060.0 552.6 C1062.7 551.8 1065.3 550.9 1068.0 550.1 C1070.7 549.3 1073.3 548.5 1076.0 547.7 C1078.7 546.9 1081.3 546.1 1084.0 545.4 C1086.7 544.7 1089.3 544.0 1092.0 543.3 C1094.7 542.6 1097.3 541.9 1100.0 541.2 C1102.7 540.5 1105.3 539.9 1108.0 539.3 C1110.7 538.7 1113.3 538.1 1116.0 537.5 C1118.7 536.9 1121.3 536.4 1124.0 535.9 C1126.7 535.4 1129.3 534.8 1132.0 534.3 C1134.7 533.8 1137.3 533.3 1140.0 532.8 C1142.7 532.3 1145.3 531.8 1148.0 531.4 C1150.7 531.0 1153.3 530.5 1156.0 530.1 C1158.7 529.7 1161.3 529.3 1164.0 528.9 C1166.7 528.5 1169.3 528.1 1172.0 527.7 C1174.7 527.3 1177.3 526.9 1180.0 526.5 C1182.7 526.1 1185.3 525.8 1188.0 525.4 C1190.7 525.0 1193.3 524.7 1196.0 524.3 C1198.7 523.9 1201.3 523.6 1204.0 523.2 C1206.7 522.8 1209.3 522.5 1212.0 522.1 C1214.7 521.7 1217.3 521.4 1220.0 521.0 C1222.7 520.6 1225.3 520.2 1228.0 519.9 C1230.7 519.5 1233.3 519.2 1236.0 518.9 C1238.7 518.5 1241.3 518.2 1244.0 517.8 C1246.7 517.4 1249.3 517.1 1252.0 516.7 C1254.7 516.4 1257.3 516.1 1260.0 515.7 C1262.7 515.4 1265.3 515.0 1268.0 514.6 C1270.7 514.2 1273.3 513.9 1276.0 513.5 C1278.7 513.1 1281.3 512.8 1284.0 512.4 C1286.7 512.0 1289.3 511.7 1292.0 511.3 C1294.7 510.9 1297.3 510.6 1300.0 510.2 C1302.7 509.8 1305.3 509.5 1308.0 509.1 C1310.7 508.8 1313.3 508.4 1316.0 508.1 C1318.7 507.8 1321.3 507.4 1324.0 507.1 C1326.7 506.8 1329.3 506.4 1332.0 506.1 C1334.7 505.8 1337.3 505.4 1340.0 505.1 C1342.7 504.8 1345.3 504.5 1348.0 504.2 C1350.7 503.9 1353.3 503.6 1356.0 503.3 C1358.7 503.0 1361.3 502.7 1364.0 502.4 C1366.7 502.1 1369.3 501.8 1372.0 501.5 C1374.7 501.2 1377.3 501.0 1380.0 500.7 C1382.7 500.4 1385.3 500.1 1388.0 499.9 C1390.7 499.6 1393.3 499.4 1396.0 499.2 C1398.7 499.0 1401.3 498.7 1404.0 498.5 C1406.7 498.3 1409.3 498.0 1412.0 497.8 C1414.7 497.6 1417.3 497.3 1420.0 497.1 C1422.7 496.9 1425.3 496.6 1428.0 496.4 C1430.7 496.2 1433.3 496.0 1436.0 495.8 C1438.7 495.6 1441.3 495.4 1444.0 495.2 C1446.7 495.0 1449.3 494.9 1452.0 494.7 C1454.7 494.5 1457.3 494.3 1460.0 494.1 C1462.7 493.9 1465.3 493.8 1468.0 493.6 C1470.7 493.4 1473.3 493.3 1476.0 493.1 C1478.7 492.9 1481.3 492.8 1484.0 492.6 C1486.7 492.4 1489.3 492.3 1492.0 492.1 C1494.7 491.9 1497.3 491.8 1500.0 491.6 C1502.7 491.5 1505.3 491.4 1508.0 491.2 C1510.7 491.0 1513.3 490.8 1516.0 490.7 C1518.7 490.6 1521.3 490.4 1524.0 490.3 C1526.7 490.2 1529.3 490.0 1532.0 489.9 C1534.7 489.8 1537.3 489.6 1540.0 489.5 C1542.7 489.4 1545.3 489.2 1548.0 489.1 C1550.7 489.0 1553.3 488.8 1556.0 488.7 C1558.7 488.6 1561.3 488.5 1564.0 488.4 C1566.7 488.3 1569.3 488.1 1572.0 488.0 C1574.7 487.9 1577.3 487.8 1580.0 487.7 C1582.7 487.6 1585.3 487.4 1588.0 487.3 C1590.7 487.2 1593.3 487.1 1596.0 487.0 C1598.7 486.9 1601.3 486.8 1604.0 486.7 C1606.7 486.6 1609.3 486.5 1612.0 486.4 C1614.7 486.3 1617.3 486.2 1620.0 486.1 C1622.7 486.0 1625.3 485.9 1628.0 485.8 C1630.7 485.7 1633.3 485.5 1636.0 485.4 C1638.7 485.3 1641.3 485.2 1644.0 485.1 C1646.7 485.0 1649.3 485.0 1652.0 484.9 C1654.7 484.8 1657.3 484.7 1660.0 484.6 C1662.7 484.5 1665.3 484.4 1668.0 484.3 C1670.7 484.2 1673.3 484.1 1676.0 484.0 C1678.7 483.9 1682.3 483.8 1684.0 483.7 C1685.7 483.6 1686.0 483.6 1686.4 483.6" stroke="#B177DE"/>
<path d="M228.0 1219.4 C228.5 1219.2 230.0 1218.7 231.0 1218.3 C232.0 1217.9 233.0 1217.6 234.0 1217.2 C235.0 1216.8 236.0 1216.5 237.0 1216.1 C238.0 1215.7 239.0 1215.3 240.0 1215.0 C241.0 1214.7 242.0 1214.3 243.0 1214.0 C244.0 1213.7 245.0 1213.4 246.0 1213.1 C247.0 1212.8 248.0 1212.5 249.0 1212.2 C250.0 1211.9 251.0 1211.7 252.0 1211.5 C253.0 1211.3 254.0 1211.0 255.0 1210.8 C256.0 1210.6 257.0 1210.4 258.0 1210.2 C259.0 1210.0 260.0 1209.9 261.0 1209.7 C262.0 1209.5 263.0 1209.4 264.0 1209.3 C265.0 1209.2 266.0 1209.1 267.0 1209.0 C268.0 1208.9 269.0 1208.8 270.0 1208.7 C271.0 1208.6 272.0 1208.5 273.0 1208.5 C274.0 1208.5 275.0 1208.4 276.0 1208.4 C277.0 1208.4 278.0 1208.3 279.0 1208.3 C280.0 1208.3 281.0 1208.3 282.0 1208.3 C283.0 1208.3 284.0 1208.2 285.0 1208.2 C286.0 1208.2 287.0 1208.2 288.0 1208.2 C289.0 1208.2 290.0 1208.1 291.0 1208.1 C292.0 1208.1 293.0 1208.1 294.0 1208.0 C295.0 1207.9 296.0 1207.8 297.0 1207.7 C298.0 1207.6 299.0 1207.5 300.0 1207.4 C301.0 1207.3 302.0 1207.2 303.0 1207.1 C304.0 1207.0 305.0 1206.8 306.0 1206.6 C307.0 1206.4 308.0 1206.2 309.0 1206.0 C310.0 1205.8 311.0 1205.5 312.0 1205.2 C313.0 1204.9 314.0 1204.7 315.0 1204.4 C316.0 1204.1 317.0 1203.8 318.0 1203.4 C319.0 1203.1 320.0 1202.7 321.0 1202.3 C322.0 1201.9 323.0 1201.5 324.0 1201.0 C325.0 1200.5 326.0 1200.0 327.0 1199.5 C328.0 1199.0 329.0 1198.5 330.0 1197.9 C331.0 1197.4 332.0 1196.8 333.0 1196.2 C334.0 1195.6 335.0 1195.0 336.0 1194.3 C337.0 1193.6 338.0 1193.0 339.0 1192.3 C340.0 1191.6 341.0 1191.0 342.0 1190.3 C343.0 1189.6 344.0 1188.8 345.0 1188.1 C346.0 1187.3 347.0 1186.6 348.0 1185.8 C349.0 1185.0 350.0 1184.1 351.0 1183.3 C352.0 1182.5 353.0 1181.6 354.0 1180.8 C355.0 1180.0 356.0 1179.1 357.0 1178.3 C358.0 1177.5 359.0 1176.6 360.0 1175.7 C361.0 1174.8 362.0 1173.9 363.0 1173.0 C364.0 1172.1 365.0 1171.2 366.0 1170.3 C367.0 1169.4 368.0 1168.5 369.0 1167.6 C370.0 1166.7 371.0 1165.7 372.0 1164.8 C373.0 1163.9 374.0 1162.9 375.0 1162.0 C376.0 1161.1 377.0 1160.2 378.0 1159.2 C379.0 1158.2 380.0 1157.2 381.0 1156.3 C382.0 1155.3 383.0 1154.5 384.0 1153.5 C385.0 1152.5 386.0 1151.5 387.0 1150.6 C388.0 1149.6 389.0 1148.8 390.0 1147.8 C391.0 1146.8 392.0 1145.9 393.0 1144.9 C394.0 1144.0 395.0 1143.0 396.0 1142.1 C397.0 1141.1 398.0 1140.2 399.0 1139.2 C400.0 1138.2 401.0 1137.4 402.0 1136.4 C403.0 1135.5 404.0 1134.5 405.0 1133.5 C406.0 1132.5 407.0 1131.6 408.0 1130.6 C409.0 1129.6 410.0 1128.7 411.0 1127.7 C412.0 1126.7 413.0 1125.8 414.0 1124.8 C415.0 1123.8 416.0 1122.9 417.0 1121.9 C418.0 1120.9 418.2 1120.8 420.0 1119.0 C421.8 1117.2 425.3 1113.8 428.0 1111.1 C430.7 1108.4 433.3 1105.8 436.0 1103.1 C438.7 1100.4 441.3 1097.7 444.0 1095.0 C446.7 1092.3 449.3 1089.5 452.0 1086.7 C454.7 1083.9 457.3 1081.1 460.0 1078.3 C462.7 1075.5 465.3 1072.7 468.0 1069.8 C470.7 1066.9 473.3 1064.0 476.0 1061.1 C478.7 1058.2 481.3 1055.3 484.0 1052.3 C486.7 1049.3 489.3 1046.3 492.0 1043.3 C494.7 1040.3 497.3 1037.2 500.0 1034.1 C502.7 1031.0 505.3 1027.9 508.0 1024.8 C510.7 1021.6 513.3 1018.4 516.0 1015.2 C518.7 1012.0 521.3 1008.7 524.0 1005.4 C526.7 1002.1 529.3 998.8 532.0 995.4 C534.7 992.0 537.3 988.6 540.0 985.2 C542.7 981.8 545.3 978.3 548.0 974.8 C550.7 971.3 553.3 967.7 556.0 964.1 C558.7 960.5 561.3 956.9 564.0 953.3 C566.7 949.7 569.3 946.1 572.0 942.4 C574.7 938.7 577.3 935.0 580.0 931.3 C582.7 927.6 585.3 923.9 588.0 920.2 C590.7 916.5 593.3 912.8 596.0 909.0 C598.7 905.2 601.3 901.5 604.0 897.7 C606.7 894.0 609.3 890.2 612.0 886.5 C614.7 882.8 617.3 879.0 620.0 875.2 C622.7 871.4 625.3 867.6 628.0 863.9 C630.7 860.1 633.3 856.4 636.0 852.7 C638.7 849.0 641.3 845.3 644.0 841.6 C646.7 837.9 649.3 834.2 652.0 830.5 C654.7 826.8 657.3 823.2 660.0 819.6 C662.7 816.0 665.3 812.4 668.0 808.8 C670.7 805.2 673.3 801.7 676.0 798.2 C678.7 794.7 681.3 791.2 684.0 787.7 C686.7 784.2 689.3 780.8 692.0 777.4 C694.7 774.0 697.3 770.6 700.0 767.3 C702.7 764.0 705.3 760.7 708.0 757.4 C710.7 754.1 713.3 750.8 716.0 747.6 C718.7 744.4 721.3 741.2 724.0 738.1 C726.7 735.0 729.3 731.8 732.0 728.7 C734.7 725.6 737.3 722.5 740.0 719.5 C742.7 716.5 745.3 713.4 748.0 710.4 C750.7 707.4 753.3 704.5 756.0 701.5 C758.7 698.5 761.3 695.5 764.0 692.6 C766.7 689.7 769.3 686.8 772.0 683.9 C774.7 681.0 777.3 678.1 780.0 675.2 C782.7 672.3 785.3 669.5 788.0 666.7 C790.7 663.9 793.3 661.0 796.0 658.2 C798.7 655.4 801.3 652.6 804.0 649.8 C806.7 647.0 809.3 644.2 812.0 641.5 C814.7 638.8 817.3 636.0 820.0 633.3 C822.7 630.6 825.3 628.0 828.0 625.4 C830.7 622.8 833.3 620.2 836.0 617.6 C838.7 615.0 841.3 612.5 844.0 610.0 C846.7 607.5 849.3 605.0 852.0 602.5 C854.7 600.0 857.3 597.7 860.0 595.3 C862.7 592.9 865.3 590.6 868.0 588.3 C870.7 586.0 873.3 583.6 876.0 581.4 C878.7 579.1 881.3 577.0 884.0 574.8 C886.7 572.6 889.3 570.4 892.0 568.3 C894.7 566.2 897.3 564.1 900.0 562.0 C902.7 559.9 905.3 557.9 908.0 555.9 C910.7 553.9 913.3 551.9 916.0 550.0 C918.7 548.1 921.3 546.2 924.0 544.3 C926.7 542.4 929.3 540.5 932.0 538.7 C934.7 536.9 937.3 535.1 940.0 533.4 C942.7 531.7 945.3 530.0 948.0 528.3 C950.7 526.6 953.3 525.0 956.0 523.4 C958.7 521.8 961.3 520.2 964.0 518.7 C966.7 517.2 969.3 515.7 972.0 514.2 C974.7 512.8 977.3 511.4 980.0 510.0 C982.7 508.6 985.3 507.2 988.0 505.9 C990.7 504.6 993.3 503.3 996.0 502.0 C998.7 500.7 1001.3 499.5 1004.0 498.3 C1006.7 497.1 1009.3 495.9 1012.0 494.8 C1014.7 493.7 1017.3 492.6 1020.0 491.5 C1022.7 490.4 1025.3 489.5 1028.0 488.5 C1030.7 487.5 1033.3 486.5 1036.0 485.6 C1038.7 484.7 1041.3 483.8 1044.0 482.9 C1046.7 482.0 1049.3 481.2 1052.0 480.4 C1054.7 479.6 1057.3 478.8 1060.0 478.0 C1062.7 477.2 1065.3 476.5 1068.0 475.8 C1070.7 475.1 1073.3 474.5 1076.0 473.8 C1078.7 473.1 1081.3 472.5 1084.0 471.9 C1086.7 471.3 1089.3 470.7 1092.0 470.1 C1094.7 469.5 1097.3 468.9 1100.0 468.4 C1102.7 467.9 1105.3 467.4 1108.0 466.9 C1110.7 466.4 1113.3 465.9 1116.0 465.5 C1118.7 465.1 1121.3 464.6 1124.0 464.2 C1126.7 463.8 1129.3 463.5 1132.0 463.1 C1134.7 462.7 1137.3 462.4 1140.0 462.0 C1142.7 461.6 1145.3 461.3 1148.0 461.0 C1150.7 460.7 1153.3 460.4 1156.0 460.1 C1158.7 459.8 1161.3 459.5 1164.0 459.2 C1166.7 458.9 1169.3 458.6 1172.0 458.4 C1174.7 458.1 1177.3 457.9 1180.0 457.7 C1182.7 457.4 1185.3 457.1 1188.0 456.9 C1190.7 456.6 1193.3 456.4 1196.0 456.2 C1198.7 456.0 1201.3 455.7 1204.0 455.5 C1206.7 455.3 1209.3 455.0 1212.0 454.8 C1214.7 454.6 1217.3 454.3 1220.0 454.1 C1222.7 453.9 1225.3 453.6 1228.0 453.4 C1230.7 453.1 1233.3 452.9 1236.0 452.6 C1238.7 452.3 1241.3 452.1 1244.0 451.8 C1246.7 451.6 1249.3 451.4 1252.0 451.1 C1254.7 450.8 1257.3 450.5 1260.0 450.2 C1262.7 449.9 1265.3 449.6 1268.0 449.3 C1270.7 449.0 1273.3 448.7 1276.0 448.4 C1278.7 448.1 1281.3 447.8 1284.0 447.5 C1286.7 447.2 1289.3 446.8 1292.0 446.5 C1294.7 446.2 1297.3 445.8 1300.0 445.5 C1302.7 445.2 1305.3 444.9 1308.0 444.6 C1310.7 444.3 1313.3 443.9 1316.0 443.6 C1318.7 443.3 1321.3 442.9 1324.0 442.6 C1326.7 442.3 1329.3 441.9 1332.0 441.6 C1334.7 441.3 1337.3 441.0 1340.0 440.7 C1342.7 440.4 1345.3 440.1 1348.0 439.8 C1350.7 439.5 1353.3 439.2 1356.0 438.9 C1358.7 438.6 1361.3 438.3 1364.0 438.0 C1366.7 437.7 1369.3 437.5 1372.0 437.2 C1374.7 436.9 1377.3 436.6 1380.0 436.4 C1382.7 436.1 1385.3 435.9 1388.0 435.7 C1390.7 435.5 1393.3 435.2 1396.0 435.0 C1398.7 434.8 1401.3 434.6 1404.0 434.4 C1406.7 434.2 1409.3 434.0 1412.0 433.8 C1414.7 433.6 1417.3 433.5 1420.0 433.3 C1422.7 433.1 1425.3 433.0 1428.0 432.8 C1430.7 432.6 1433.3 432.5 1436.0 432.4 C1438.7 432.3 1441.3 432.1 1444.0 432.0 C1446.7 431.9 1449.3 431.7 1452.0 431.6 C1454.7 431.5 1457.3 431.4 1460.0 431.3 C1462.7 431.2 1465.3 431.1 1468.0 431.0 C1470.7 430.9 1473.3 430.8 1476.0 430.7 C1478.7 430.6 1481.3 430.4 1484.0 430.3 C1486.7 430.2 1489.3 430.1 1492.0 430.0 C1494.7 429.9 1497.3 429.8 1500.0 429.7 C1502.7 429.6 1505.3 429.4 1508.0 429.3 C1510.7 429.2 1513.3 429.1 1516.0 429.0 C1518.7 428.9 1521.3 428.7 1524.0 428.6 C1526.7 428.5 1529.3 428.3 1532.0 428.2 C1534.7 428.1 1537.3 427.9 1540.0 427.8 C1542.7 427.7 1545.3 427.5 1548.0 427.4 C1550.7 427.3 1553.3 427.1 1556.0 427.0 C1558.7 426.9 1561.3 426.7 1564.0 426.5 C1566.7 426.3 1569.3 426.2 1572.0 426.0 C1574.7 425.8 1577.3 425.7 1580.0 425.5 C1582.7 425.3 1585.3 425.1 1588.0 424.9 C1590.7 424.7 1593.3 424.6 1596.0 424.4 C1598.7 424.2 1601.3 424.0 1604.0 423.8 C1606.7 423.6 1609.3 423.4 1612.0 423.2 C1614.7 423.0 1617.3 422.8 1620.0 422.6 C1622.7 422.4 1625.3 422.2 1628.0 422.0 C1630.7 421.8 1633.3 421.6 1636.0 421.4 C1638.7 421.2 1641.3 420.9 1644.0 420.7 C1646.7 420.5 1649.3 420.3 1652.0 420.1 C1654.7 419.9 1657.3 419.6 1660.0 419.4 C1662.7 419.2 1665.3 419.0 1668.0 418.8 C1670.7 418.6 1673.3 418.3 1676.0 418.1 C1678.7 417.9 1682.3 417.5 1684.0 417.4 C1685.7 417.2 1686.0 417.2 1686.4 417.2" stroke="#CC9900"/>
</g>
<rect x="242.3" y="59.3" width="569.4" height="545.8" fill="#fff" stroke="#484848" stroke-width="2.6"/>
<path d="M251.5 109.3 H413.5" stroke="#515151" stroke-width="9" stroke-linecap="round"/>
<text x="431" y="133.9" font-size="72">0%-CRM</text>
<path d="M251.5 198.6 H413.5" stroke="#F14040" stroke-width="9" stroke-linecap="round"/>
<text x="431" y="223.2" font-size="72">0.5%-CRM</text>
<path d="M251.5 287.7 H413.5" stroke="#1A6FDF" stroke-width="9" stroke-linecap="round"/>
<text x="431" y="312.3" font-size="72">0.08%-CRM</text>
<path d="M251.5 376.7 H413.5" stroke="#37AD6B" stroke-width="9" stroke-linecap="round"/>
<text x="431" y="401.3" font-size="72">0.15%-CRM</text>
<path d="M251.5 465.4 H413.5" stroke="#B177DE" stroke-width="9" stroke-linecap="round"/>
<text x="431" y="490.0" font-size="72">0.34%-CRM</text>
<path d="M251.5 554.0 H413.5" stroke="#CC9900" stroke-width="9" stroke-linecap="round"/>
<text x="431" y="578.6" font-size="72">0.24%-CRM</text>
<g class="tk" font-size="82.3">
<text x="203" y="1255.0" text-anchor="end">0</text>
<text x="203" y="1087.4" text-anchor="end">5</text>
<text x="203" y="919.8" text-anchor="end">10</text>
<text x="203" y="752.2" text-anchor="end">15</text>
<text x="203" y="584.7" text-anchor="end">20</text>
<text x="203" y="417.1" text-anchor="end">25</text>
<text x="203" y="249.5" text-anchor="end">30</text>
<text x="203" y="81.9" text-anchor="end">35</text>
<text x="227.3" y="1319.8" text-anchor="middle">0</text>
<text x="519.0" y="1319.8" text-anchor="middle">1</text>
<text x="810.7" y="1319.8" text-anchor="middle">2</text>
<text x="1102.3" y="1319.8" text-anchor="middle">3</text>
<text x="1394.0" y="1319.8" text-anchor="middle">4</text>
<text x="1685.7" y="1319.8" text-anchor="middle">5</text>
</g>
<text transform="translate(972.4 1401.8) scale(0.952 1)" font-size="93.4" text-anchor="middle">Strain/%</text>
<text transform="translate(82.8 633) rotate(-90) scale(0.952 1)" font-size="93.4" text-anchor="middle">Stress/Mpa</text>
</svg></body></html>
